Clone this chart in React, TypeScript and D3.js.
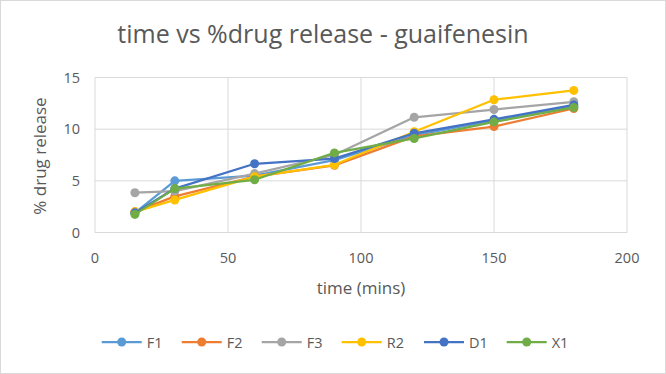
import React from "react";
import * as d3 from "d3";

const times = [15, 30, 60, 90, 120, 150, 180];
const seriesNames = ["F1", "F2", "F3", "R2", "D1", "X1"];
const F1 = [1.9, 5.0, 5.5, 7.0, 9.4, 10.85, 12.2];
const F2 = [2.0, 3.5, 5.4, 6.5, 9.3, 10.25, 12.0];
const F3 = [3.85, 4.0, 5.7, 7.5, 11.15, 11.9, 12.65];
const R2 = [2.0, 3.15, 5.4, 6.55, 9.75, 12.85, 13.75];
const D1 = [1.9, 4.25, 6.65, 7.15, 9.6, 10.95, 12.35];
const X1 = [1.75, 4.25, 5.1, 7.7, 9.1, 10.7, 12.1];
const seriesValues = [F1, F2, F3, R2, D1, X1];
const colors = ["#5B9BD5", "#ED7D31", "#A5A5A5", "#FFC000", "#4472C4", "#70AD47"];
const xTicks = [0, 50, 100, 150, 200];
const yTicks = [0, 5, 10, 15];

const W = 666;
const H = 374;
const FONT = "'Open Sans', sans-serif";

export default function App() {
  const x = d3.scaleLinear().domain([0, 200]).range([95, 627]);
  const y = d3.scaleLinear().domain([0, 15]).range([232.5, 77.5]);
  const line = d3
    .line<[number, number]>()
    .x((d) => x(d[0]))
    .y((d) => y(d[1]));
  const legendX = [121.7, 201.7, 281.7, 361.7, 444, 526.7];
  return (
    <div style={{ position: "fixed", left: 0, top: 0 }}>
      <svg width={W} height={H} style={{ display: "block", fontFamily: FONT }}>
        <rect x={0.5} y={0.5} width={W - 1} height={H - 1} fill="#fff" stroke="#D9D9D9" />
        <text x={323} y={43} textAnchor="middle" fontSize={25} fill="#595959">
          time vs %drug release - guaifenesin
        </text>
        {xTicks.map((t) => (
          <line key={"gx" + t} x1={x(t)} x2={x(t)} y1={y(15)} y2={y(0)} stroke="#D9D9D9" strokeWidth={1} />
        ))}
        {yTicks.map((t) => (
          <line key={"gy" + t} x1={x(0)} x2={x(200)} y1={y(t)} y2={y(t)} stroke="#D9D9D9" strokeWidth={1} />
        ))}
        {xTicks.map((t) => (
          <text key={"tx" + t} x={x(t)} y={263} textAnchor="middle" fontSize={14.5} fill="#595959">
            {t}
          </text>
        ))}
        {yTicks.map((t) => (
          <text key={"ty" + t} x={80} y={y(t) + 5} textAnchor="end" fontSize={14.5} fill="#595959">
            {t}
          </text>
        ))}
        <text x={361} y={294} textAnchor="middle" fontSize={17} fill="#595959">
          time (mins)
        </text>
        <text
          transform={`translate(46,${156}) rotate(-90)`}
          textAnchor="middle"
          fontSize={17}
          fill="#595959"
        >
          % drug release
        </text>
        {seriesValues.map((vals, i) => {
          const pts = times.map((t, j) => [t, vals[j]] as [number, number]);
          return (
            <g key={seriesNames[i]}>
              <path d={line(pts) || ""} fill="none" stroke={colors[i]} strokeWidth={2.25} strokeLinejoin="round" />
              {pts.map((p, j) => (
                <circle key={j} cx={x(p[0])} cy={y(p[1])} r={4.5} fill={colors[i]} />
              ))}
            </g>
          );
        })}
        {seriesNames.map((n, i) => (
          <g key={"lg" + n}>
            <line x1={legendX[i] - 20} x2={legendX[i] + 20} y1={342} y2={342} stroke={colors[i]} strokeWidth={2.25} />
            <circle cx={legendX[i]} cy={342} r={4.5} fill={colors[i]} />
            <text x={legendX[i] + 25} y={347.5} fontSize={14.5} fill="#595959">
              {n}
            </text>
          </g>
        ))}
      </svg>
    </div>
  );
}
